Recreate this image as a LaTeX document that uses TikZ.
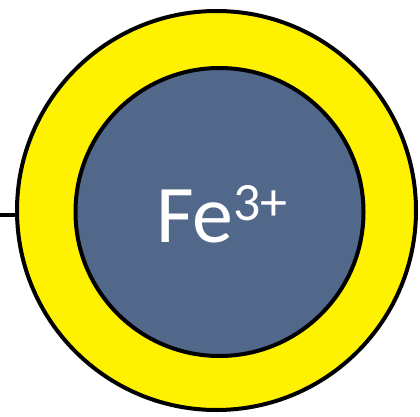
\documentclass[tikz,border=0pt]{standalone}
\usepackage{fontspec}
\setmainfont{Carlito}
\usepackage{xcolor}
\usetikzlibrary{positioning}
\definecolor{ionblue}{RGB}{82,104,138}
\newcommand{\ionsup}[1]{\raisebox{22pt}{\fontsize{54}{58}\selectfont #1}}

\begin{document}
\begin{tikzpicture}[
  x=1pt, y=-1pt,
  shell/.style={circle, draw=black, line width=4pt, fill=yellow, inner sep=0pt, minimum size=399pt},
  core/.style={circle, draw=black, line width=4pt, fill=ionblue, inner sep=0pt, minimum size=288pt},
  ion/.style={text=white, font=\fontsize{82}{90}\selectfont, inner sep=0pt}
]
  \useasboundingbox (0,0) rectangle (420,417);

  \node[shell] (outer) at (216.5,210.5) {};
  \node[core] (inner) at (219.5,212) {};
  \node[ion, anchor=base] (label) at (222,242) {Fe\ionsup{3+}};

  \coordinate (lead) at (0,215);
  \draw[line width=4pt] (lead) -- (lead -| outer.west);
\end{tikzpicture}
\end{document}
